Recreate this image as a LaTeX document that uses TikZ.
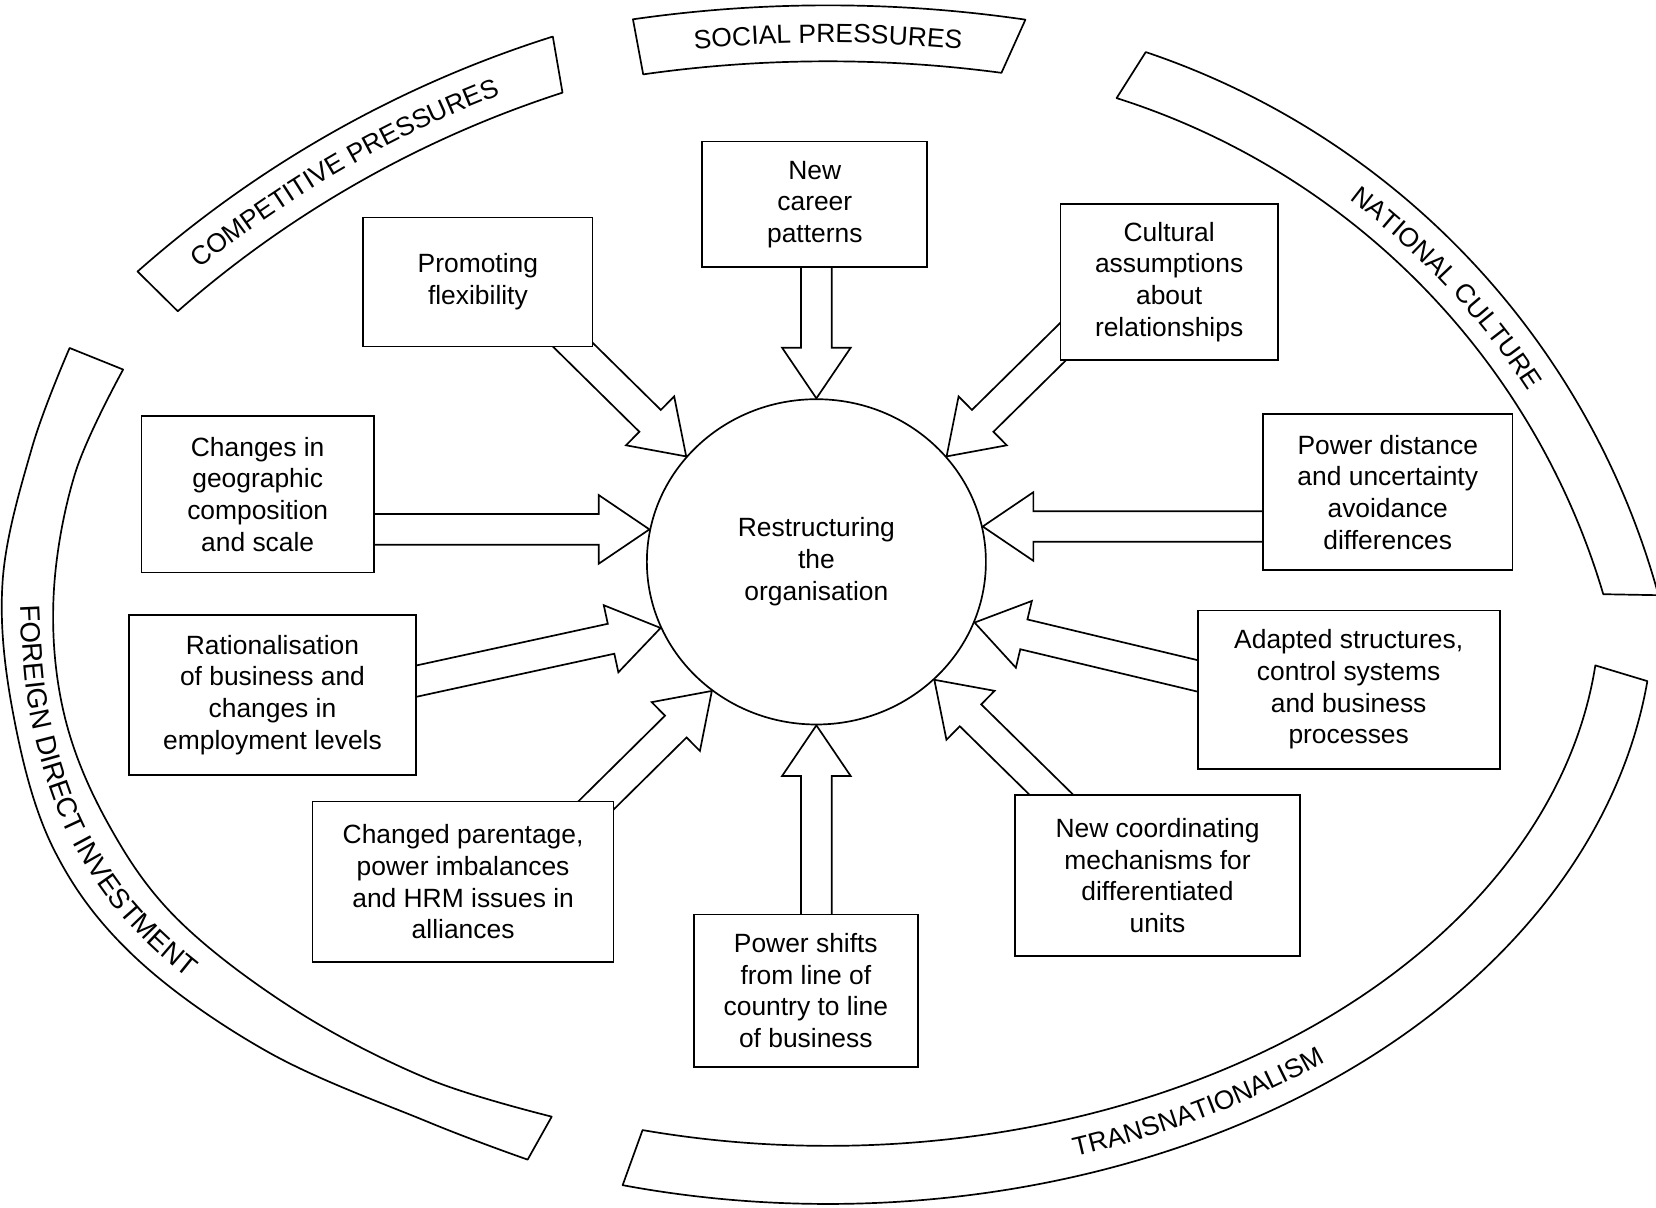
\documentclass[tikz,border=0pt]{standalone}
\usepackage{fontspec}
\setmainfont{Liberation Sans}
\usetikzlibrary{calc,shapes.geometric,decorations.text}
\pgfdeclarelayer{bg}
\pgfdeclarelayer{paper}
\pgfsetlayers{paper,bg,main}
\newcommand{\bxfont}{\fontsize{25}{30}\selectfont}
\newcommand{\fdifont}{\fontsize{26.3}{30}\selectfont}
\newcommand{\bigarrow}[2]{%
  \coordinate (ba-s) at ($(#1)!-40pt!(#2)$);
  \coordinate (ba-h) at ($(#2)!48pt!(#1)$);
  \draw[arr] ($(ba-s)!14.5pt!90:(#2)$) -- ($(ba-h)!14.5pt!90:(#2)$)
    -- ($(ba-h)!32.5pt!90:(#2)$) -- (#2) -- ($(ba-h)!32.5pt!-90:(#2)$)
    -- ($(ba-h)!14.5pt!-90:(#2)$) -- ($(ba-s)!14.5pt!-90:(#2)$) -- cycle;}
\tikzset{
  lw/.style={line width=1.6pt},
  band/.style={draw, lw, line join=round, fill=white},
  arr/.style={draw, lw, line join=miter, fill=white},
  bx/.style={draw, lw, fill=white, align=center, inner sep=0pt, font=\bxfont},
  bandtext/.style={decorate, decoration={text along path, text={|\bxfont|#1}, text align=center}}
}
\begin{document}
\begin{tikzpicture}[x=1pt, y=1pt]
\useasboundingbox (0,0) rectangle (1568,1143);
\begin{pgfonlayer}{paper}
\fill[white] (0,0) rectangle (1568,1143);
\end{pgfonlayer}

% ---- banners ----
\coordinate (socC) at (784,-157);
\coordinate (comC) at (850.1,72.3);
\coordinate (natC) at (845,381);
\coordinate (traC) at (784,569);

% social pressures
\draw[band] ($(socC)+(98.2:1295)$) arc[start angle=98.2, end angle=81.7, radius=1295]
  -- ($(socC)+(82.4:1242)$) arc[start angle=82.4, end angle=98.1, radius=1242] -- cycle;
\path[bandtext={SOCIAL PRESSURES}] ($(socC)+(100:1259.5)$) arc[start angle=100, end angle=80, radius=1259.5];

% competitive pressures
\draw[band] ($(comC)+(131.5:1086.4)$) arc[start angle=131.5, end angle=107.5, radius=1086.4]
  -- ($(comC)+(107.9:1033)$) arc[start angle=107.9, end angle=131.3, radius=1033] -- cycle;
\path[bandtext={COMPETITIVE PRESSURES}] ($(comC)+(135:1050.6)$) arc[start angle=135, end angle=105, radius=1050.6];

% national culture
\draw[band] ($(natC)+(71.4:752)$) arc[start angle=71.4, end angle=15.3, radius=752]
  -- ($(natC)+(16.5:702)$) arc[start angle=16.5, end angle=72.4, radius=702] -- cycle;
\path[bandtext={NATIONAL CULTURE}] ($(natC)+(68:718)$) arc[start angle=68, end angle=18, radius=718];

% transnationalism
\draw[band] ($(traC)+(-104.4:782 and 566)$) arc[start angle=-104.4, end angle=-7.2, x radius=782, y radius=566]
  -- ($(traC)+(-6.3:731 and 511)$) arc[start angle=-6.3, end angle=-103.9, x radius=731, y radius=511] -- cycle;
\path[bandtext={TRANSNATIONALISM}] ($(traC)+(-81.5:764.7 and 547.3)$) arc[start angle=-81.5, end angle=-41.5, x radius=764.7, y radius=547.3];

% foreign direct investment
\draw[band] plot[smooth, tension=0.6] coordinates {(65.9,813.5) (30.4,719.5) (2.5,593) (12.7,466) (50.7,339.3) (126.8,237.7) (253.6,147) (405.7,80.5) (499.6,45)}
  -- plot[smooth, tension=0.6] coordinates {(522.4,85.7) (405.7,121.3) (279,187) (167.4,273.3) (101.6,364.5) (60.9,466) (50.7,577.7) (71,694.4) (116.6,793.1)} -- cycle;
\path[decorate, decoration={text along path, text={|\fdifont|FOREIGN DIRECT INVESTMENT}, text align={left indent=18pt}}]
  plot[smooth, tension=0.6] coordinates {(18.4,588) (28.6,466) (67.5,347.6) (140.2,249.5) (262,160.2) (405.7,94)};

% ---- centre ----
\node[draw, lw, ellipse, fill=white, minimum width=321pt, minimum height=308pt, inner sep=0pt, align=center, font=\bxfont] (c) at (773,611) {Restructuring\\the\\organisation};

% ---- boxes ----
\node[bx, minimum width=213pt, minimum height=119pt] (career) at (771.5,949.5) {New\\career\\patterns};
\node[bx, minimum width=217pt, minimum height=122pt] (prom) at (452.5,876) {Promoting\\flexibility};
\node[bx, minimum width=206pt, minimum height=148pt] (cult) at (1107,876) {Cultural\\assumptions\\about\\relationships};
\node[bx, minimum width=236pt, minimum height=148pt] (pdist) at (1314,677) {Power distance\\and uncertainty\\avoidance\\differences};
\node[bx, minimum width=286pt, minimum height=150pt] (adapt) at (1277,490) {Adapted structures,\\control systems\\and business\\processes};
\node[bx, minimum width=270pt, minimum height=152pt] (coord) at (1096,314) {New coordinating\\mechanisms for\\differentiated\\units};
\node[bx, minimum width=212pt, minimum height=144pt] (shift) at (763,205) {Power shifts\\from line of\\country to line\\of business};
\node[bx, minimum width=285pt, minimum height=152pt] (parent) at (438.5,308) {Changed parentage,\\power imbalances\\and HRM issues in\\alliances};
\node[bx, minimum width=272pt, minimum height=152pt] (ration) at (258,485) {Rationalisation\\of business and\\changes in\\employment levels};
\node[bx, minimum width=220pt, minimum height=148pt] (geo) at (244,675) {Changes in\\geographic\\composition\\and scale};

% ---- arrow end points ----
\coordinate (t-geo) at (c.169);
\coordinate (t-pdist) at (c.12);
\coordinate (t-prom) at (c.141);
\coordinate (t-cult) at (c.39);
\coordinate (t-adapt) at (c.339);
\coordinate (t-coord) at (c.315);
\coordinate (t-shift) at (c.270);
\coordinate (t-parent) at (c.231);
\coordinate (t-ration) at (c.203);
\coordinate (t-career) at (c.90);

\coordinate (s-geo) at (geo.center |- t-geo);
\coordinate (s-pdist) at (pdist.center |- t-pdist);
\coordinate (s-career) at (t-career |- career.center);
\coordinate (s-shift) at (t-shift |- shift.center);
\coordinate (s-prom) at (544,815);
\coordinate (s-cult) at (1003,816);
\coordinate (s-adapt) at (1134,503);
\coordinate (s-coord) at (996,390);
\coordinate (s-parent) at (568,384);
\coordinate (s-ration) at (394,498);

\begin{pgfonlayer}{bg}
\bigarrow{s-geo}{t-geo}
\bigarrow{s-pdist}{t-pdist}
\bigarrow{s-career}{t-career}
\bigarrow{s-shift}{t-shift}
\bigarrow{s-prom}{t-prom}
\bigarrow{s-cult}{t-cult}
\bigarrow{s-adapt}{t-adapt}
\bigarrow{s-coord}{t-coord}
\bigarrow{s-parent}{t-parent}
\bigarrow{s-ration}{t-ration}
\end{pgfonlayer}
\end{tikzpicture}
\end{document}
